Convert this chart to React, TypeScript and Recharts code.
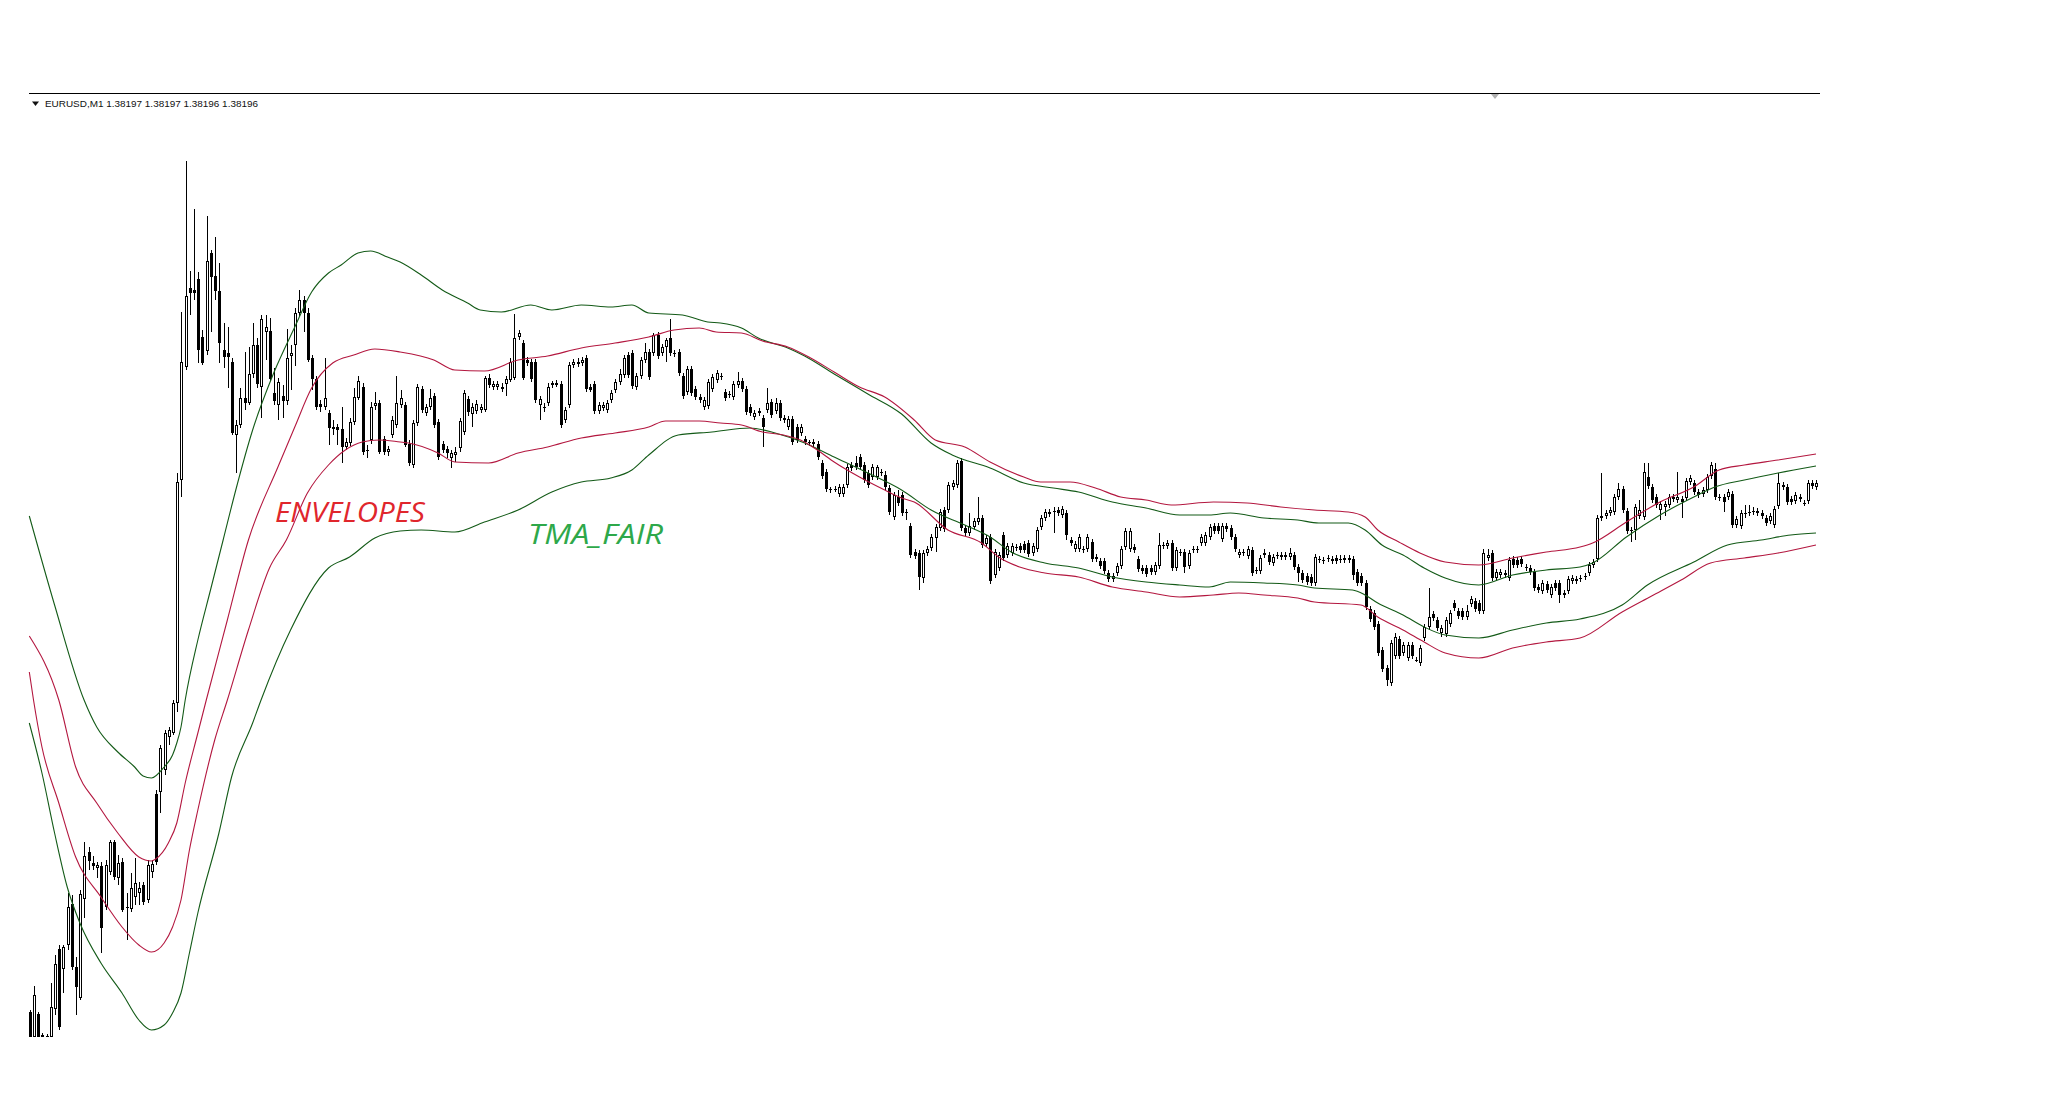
import React from 'react';
import { ComposedChart, Bar, Line, XAxis, YAxis } from 'recharts';

// EURUSD M1 candles, price in points: [open, high, low, close]
const candles: number[][] = [
[88,90,63,63],[63,114,63,105],[86,88,63,63],[63,67,63,65],[63,66,63,64],[63,117,63,93],[91,145,85,136],[151,155,70,73],[131,155,107,153],[155,207,150,193],
[196,205,130,133],[133,143,85,113],[102,210,100,206],[201,258,182,244],[248,253,230,239],[237,244,230,234],[232,238,222,235],[234,238,147,172],[193,240,190,235],[228,260,225,258],
[258,260,220,223],[222,245,215,237],[238,242,188,190],[193,207,160,192],[191,227,188,212],[203,242,195,217],[207,218,195,212],[215,218,195,198],[200,240,197,235],[228,240,222,236],
[306,310,235,238],[308,355,287,352],[330,370,325,367],[363,373,355,370],[367,400,365,397],[397,627,388,618],[620,788,603,738],[733,939,730,804],[812,829,785,807],[810,891,800,807],
[821,828,737,750],[763,770,735,737],[749,884,745,839],[847,850,768,823],[824,863,800,809],[809,837,737,757],[750,777,732,743],[747,773,712,743],[738,742,665,667],[665,680,627,675],
[675,712,672,702],[702,748,690,697],[697,753,695,726],[726,777,722,755],[755,762,712,716],[713,785,682,781],[768,785,740,773],[769,782,719,721],[707,732,695,699],[695,722,680,718],
[704,715,682,699],[699,771,695,742],[744,755,710,747],[755,792,734,787],[787,810,784,800],[800,804,768,787],[787,792,738,740],[742,745,710,721],[721,724,690,693],[696,700,688,693],
[693,742,690,702],[687,690,655,672],[673,680,665,671],[673,676,655,670],[671,693,637,653],[653,662,650,658],[657,682,654,678],[678,712,675,703],[702,724,700,719],[713,717,645,648],
[650,655,642,649],[660,698,656,693],[694,708,690,697],[697,700,646,648],[661,664,645,648],[648,654,644,651],[665,684,662,680],[675,724,672,697],[695,710,692,702],[695,698,653,655],
[656,660,634,637],[635,680,632,677],[677,716,674,713],[711,714,687,690],[687,696,684,693],[693,711,690,702],[704,707,672,675],[678,681,640,643],[656,659,647,650],[651,654,642,647],
[642,650,632,647],[645,653,638,648],[652,682,648,679],[668,710,665,707],[701,704,684,688],[686,697,673,693],[689,700,686,696],[690,696,687,693],[690,724,688,722],[722,726,712,715],
[713,719,710,716],[713,719,710,716],[711,717,708,713],[716,724,704,721],[720,742,718,738],[722,786,720,762],[763,770,760,767],[757,760,720,722],[740,743,734,737],[738,741,718,721],
[738,741,697,700],[695,704,680,701],[693,697,688,692],[697,717,694,713],[715,719,712,717],[715,720,713,717],[716,719,672,675],[680,693,677,690],[695,738,692,735],[735,741,732,738],
[736,742,733,738],[737,743,734,740],[742,745,708,711],[713,716,708,710],[716,719,686,689],[689,698,686,695],[692,698,689,695],[690,700,687,697],[700,710,697,707],[710,721,707,718],
[718,731,715,726],[725,745,722,742],[745,748,722,725],[747,750,711,714],[713,727,710,724],[724,743,721,740],[740,757,737,748],[748,751,720,723],[747,767,744,765],[765,768,741,744],
[747,756,744,753],[753,762,738,760],[762,781,744,747],[747,750,743,746],[748,751,724,727],[724,727,701,704],[708,734,705,731],[731,734,704,707],[711,714,700,703],[703,706,697,700],
[693,703,690,700],[694,721,691,718],[711,726,708,723],[720,730,717,727],[724,727,720,723],[708,711,699,702],[706,709,702,705],[703,719,700,716],[715,728,712,719],[719,722,708,711],
[711,714,685,688],[693,696,684,687],[683,690,680,687],[687,692,684,689],[682,685,653,673],[690,712,687,697],[698,701,682,685],[689,702,686,697],[697,700,679,682],[682,685,677,680],
[673,684,670,681],[681,684,655,658],[673,676,657,660],[667,676,664,673],[661,664,655,658],[658,660,654,657],[658,661,653,656],[656,659,640,643],[637,640,621,624],[628,631,608,611],
[611,613,607,610],[611,614,608,610],[606,616,603,613],[606,616,603,613],[615,636,612,633],[635,638,629,632],[637,644,630,633],[643,646,630,633],[635,638,617,620],[627,630,612,615],
[623,636,620,633],[623,635,620,633],[628,631,624,627],[625,629,610,613],[612,615,585,588],[583,608,580,605],[603,610,594,597],[605,608,584,587],[588,591,580,587],[574,577,542,545],
[548,551,541,544],[547,550,510,523],[522,550,517,547],[547,554,544,551],[552,566,549,563],[562,576,548,573],[572,591,569,588],[590,593,568,571],[590,618,587,615],[613,620,610,617],
[615,640,612,637],[639,642,569,572],[572,575,564,567],[567,587,564,574],[573,582,570,579],[578,603,575,582],[582,585,552,555],[556,565,553,562],[563,566,516,519],[525,551,522,548],
[532,548,529,545],[565,568,539,542],[545,557,542,554],[547,557,544,554],[553,556,549,552],[554,557,547,550],[556,559,547,550],[557,560,543,546],[547,557,544,554],[551,573,548,570],
[573,585,570,582],[582,591,579,588],[586,591,583,588],[589,593,567,588],[590,593,584,587],[585,594,582,591],[587,590,560,565],[560,563,554,557],[551,559,548,556],[551,566,548,563],
[551,554,547,550],[551,566,548,563],[558,561,538,541],[543,546,538,541],[539,542,531,534],[539,542,526,529],[527,530,518,521],[521,527,518,524],[527,537,524,534],[534,554,531,551],
[553,572,550,569],[551,572,548,569],[553,556,547,550],[541,544,528,531],[532,535,526,529],[532,535,523,526],[532,535,525,528],[528,538,525,535],[534,567,531,555],[555,558,551,554],
[554,560,551,557],[557,560,529,532],[532,553,529,550],[548,551,544,547],[548,551,527,533],[534,550,531,547],[551,554,547,550],[551,554,547,550],[557,566,554,563],[557,568,554,565],
[563,576,560,573],[574,577,566,569],[574,577,566,569],[561,577,558,574],[574,577,568,571],[572,575,560,563],[563,566,548,551],[545,551,542,548],[548,551,544,547],[544,554,541,551],
[550,553,524,527],[530,533,526,529],[529,545,526,542],[547,551,542,545],[545,548,535,538],[537,546,534,543],[545,548,541,544],[545,548,540,543],[543,548,540,545],[543,552,540,547],
[545,548,530,533],[533,536,518,527],[527,530,517,520],[524,527,515,518],[523,526,514,517],[517,546,514,543],[541,544,537,540],[540,543,536,539],[542,545,538,541],[541,544,536,539],
[542,545,536,539],[541,545,537,540],[542,545,537,540],[542,545,537,540],[541,544,520,525],[528,531,514,517],[524,527,514,517],[517,520,490,493],[491,494,478,481],[487,490,470,473],
[476,479,444,447],[450,453,428,431],[432,435,414,420],[417,460,414,457],[444,467,441,463],[461,464,441,444],[447,458,444,455],[442,458,439,455],[455,458,441,444],[440,443,438,439],
[437,455,434,452],[462,476,459,473],[473,512,470,483],[486,489,479,482],[480,483,469,472],[467,475,463,472],[466,483,463,480],[476,490,473,487],[497,500,489,492],[489,492,481,484],
[489,492,480,483],[483,495,480,489],[496,504,493,501],[499,502,488,491],[497,500,486,489],[489,551,486,547],[542,551,539,545],[547,550,519,522],[522,531,519,528],[525,531,522,528],
[527,530,522,525],[522,543,519,540],[541,544,532,535],[540,543,532,535],[541,544,533,536],[533,536,529,532],[532,535,525,528],[528,531,509,512],[513,516,507,510],[509,520,506,517],
[516,519,507,510],[505,516,502,513],[517,520,509,512],[517,520,497,505],[505,510,502,507],[509,524,506,521],[519,525,516,522],[519,524,516,521],[522,525,518,521],[523,527,520,524],
[527,538,524,535],[535,541,532,538],[541,585,538,582],[582,627,579,584],[584,590,581,587],[587,593,584,590],[588,606,585,603],[603,617,600,611],[611,614,587,590],[589,592,566,569],
[570,573,558,569],[570,596,560,593],[584,600,581,590],[583,637,580,628],[623,637,611,614],[613,616,597,600],[603,606,592,595],[590,599,580,596],[593,599,584,596],[595,606,592,603],
[603,606,598,601],[600,628,597,603],[601,604,582,598],[602,622,599,619],[618,625,615,622],[617,620,605,608],[608,611,602,605],[606,613,603,610],[610,626,607,623],[624,638,621,635],
[631,637,600,603],[603,606,599,602],[603,606,588,598],[603,611,600,608],[606,609,572,575],[575,584,572,581],[574,590,571,587],[587,595,582,586],[588,595,584,587],[589,593,585,588],
[589,592,584,587],[587,590,581,584],[582,585,574,577],[579,587,576,584],[575,594,572,591],[594,627,591,617],[613,618,610,615],[613,616,595,598],[601,604,595,598],[599,608,596,605],
[603,606,598,601],[597,600,594,596],[599,620,596,617],[617,620,611,614],[613,620,610,617]
];

// indicator samples: [candle index, value]
const tmaUpper: number[][] = [[0,584],[6,495],[13,400],[16,373],[21,348],[25,333],[27,324],[29,322],[32,333],[34,345],[35,357],[36,373],[37,400],[40,460],[43,510],[46,560],[49,610],[53,670],[58,727],[63,773],[67,808],[71,827],[74,835],[78,847],[81,849],[85,843],[88,838],[93,825],[98,810],[104,797],[107,790],[112,788],[119,795],[124,790],[131,795],[138,793],[143,795],[147,787],[155,785],[161,778],[164,777],[169,772],[173,762],[180,752],[184,744],[191,726],[199,706],[207,686],[214,657],[219,645],[228,632],[236,617],[243,612],[249,608],[257,598],[265,592],[273,585],[280,585],[285,587],[293,582],[301,580],[306,577],[313,577],[317,570],[321,555],[326,545],[331,532],[336,522],[344,515],[352,525],[360,530],[368,533],[371,537],[379,563],[387,585],[395,603],[400,613],[407,620],[415,627],[424,634]];

const tmaLower: number[][] = [[0,377],[3,327],[6,267],[9,213],[12,177],[17,137],[22,107],[26,80],[29,70],[32,75],[34,87],[36,107],[38,147],[40,187],[45,267],[48,323],[53,377],[55,400],[62,470],[71,532],[76,543],[82,562],[88,569],[93,570],[101,568],[108,578],[116,590],[124,608],[131,618],[138,622],[143,630],[147,645],[154,665],[162,668],[171,672],[177,667],[184,657],[191,643],[199,627],[207,610],[214,590],[222,575],[228,563],[233,548],[241,537],[249,532],[257,523],[265,518],[273,515],[280,513],[285,518],[293,517],[301,515],[305,512],[314,510],[317,505],[320,497],[326,485],[331,473],[336,465],[344,462],[352,470],[360,477],[368,481],[378,495],[384,515],[395,538],[403,555],[411,560],[418,565],[424,567]];

const envUpper: number[][] = [[0,464],[7,400],[11,333],[16,297],[21,267],[26,243],[29,239],[30,241],[33,257],[35,277],[37,317],[40,367],[42,400],[47,480],[52,560],[59,633],[63,673],[67,712],[72,737],[77,745],[82,751],[88,748],[96,740],[101,730],[108,729],[116,740],[123,744],[131,752],[139,757],[147,763],[153,770],[159,772],[163,768],[169,767],[174,759],[180,753],[185,743],[191,728],[197,713],[203,703],[210,680],[215,660],[222,653],[228,638],[236,623],[240,618],[247,618],[253,612],[259,603],[265,600],[271,595],[281,598],[289,597],[297,593],[305,590],[313,588],[317,583],[320,570],[325,558],[330,547],[336,538],[344,535],[352,542],[360,548],[368,553],[371,557],[379,578],[387,598],[395,613],[401,630],[407,635],[415,640],[424,646]];

const envLower: number[][] = [[0,428],[1,400],[3,353],[7,297],[11,243],[17,203],[22,173],[26,155],[29,148],[32,157],[34,173],[36,200],[38,250],[40,290],[44,360],[47,400],[52,470],[57,532],[61,560],[66,607],[71,635],[75,650],[79,658],[83,660],[88,658],[90,657],[97,647],[101,638],[109,637],[116,647],[123,653],[131,662],[139,667],[147,673],[151,679],[159,679],[164,677],[169,675],[174,668],[179,665],[183,660],[187,650],[191,638],[197,623],[203,610],[207,602],[210,598],[218,570],[226,557],[230,543],[235,533],[241,527],[249,523],[257,513],[265,508],[273,503],[281,505],[287,507],[293,505],[301,502],[305,498],[316,495],[320,483],[326,470],[331,458],[336,447],[344,442],[352,452],[360,458],[368,462],[378,488],[385,504],[392,520],[399,537],[407,542],[415,547],[424,555]];

const headerText = 'EURUSD,M1  1.38197 1.38197 1.38196 1.38196';
const envLabel = 'ENVELOPES';
const tmaLabel = 'TMA_FAIR';

const GREEN = '#135a17';
const RED = '#b3173f';

type Row = { [k: string]: any };

function buildRows(): Row[] {
  const rows: Row[] = candles.map((c, i) => ({ i, o: c[0], h: c[1], l: c[2], c: c[3], range: [c[2], c[1]] }));
  const put = (arr: number[][], key: string) => arr.forEach(([i, v]) => { if (rows[i]) rows[i][key] = v; });
  put(tmaUpper, 'tu');
  put(tmaLower, 'tl');
  put(envUpper, 'eu');
  put(envLower, 'el');
  return rows;
}

const rows = buildRows();

const CandleShape = (props: any) => {
  const { x, y, width, height, payload } = props;
  if (x == null || y == null || !payload) return <g />;
  const { o, h, l, c } = payload;
  const top = Math.min(y, y + height);
  const hgt = Math.abs(height);
  const span = h - l;
  const py = (v: number) => (span === 0 ? top : top + ((h - v) / span) * hgt);
  const cx = Math.round(x + width / 2);
  const yHigh = Math.round(top);
  const yLow = Math.round(top + hgt);
  const bTop = Math.round(py(Math.max(o, c)));
  const bBot = Math.round(py(Math.min(o, c)));
  const up = c > o;
  const bh = bBot - bTop;
  return (
    <g shapeRendering="crispEdges">
      <line x1={cx + 0.5} x2={cx + 0.5} y1={yHigh} y2={yLow} stroke="#000" strokeWidth={1} />
      {bh <= 1 ? (
        <rect x={cx - 1} y={bTop} width={3} height={1} fill="#000" />
      ) : up ? (
        <rect x={cx - 0.5} y={bTop + 0.5} width={2} height={Math.max(bh - 1, 0)} fill="#fff" stroke="#000" strokeWidth={1} />
      ) : (
        <rect x={cx - 1} y={bTop} width={3} height={bh} fill="#000" />
      )}
    </g>
  );
};

export default function App() {
  const n = candles.length;
  const firstX = 29.3;
  const lastX = 1816;
  const bw = (lastX - firstX) / (n - 1);
  const left = firstX - bw / 2;
  const right = 2048 - (left + bw * n);
  return (
    <div style={{ position: 'absolute', left: 0, top: 0, width: 2048, height: 1112, background: '#fff', overflow: 'hidden' }}>
      <ComposedChart width={2048} height={1112} data={rows} margin={{ top: 100, bottom: 12, left, right }}>
        <XAxis dataKey="i" type="category" hide />
        <YAxis type="number" domain={[0, 1000]} hide allowDataOverflow />
        <Bar dataKey="range" barSize={3} shape={CandleShape} isAnimationActive={false} />
        <Line dataKey="tu" type="monotone" stroke={GREEN} strokeWidth={1.1} dot={false} activeDot={false} connectNulls isAnimationActive={false} />
        <Line dataKey="tl" type="monotone" stroke={GREEN} strokeWidth={1.1} dot={false} activeDot={false} connectNulls isAnimationActive={false} />
        <Line dataKey="eu" type="monotone" stroke={RED} strokeWidth={1.1} dot={false} activeDot={false} connectNulls isAnimationActive={false} />
        <Line dataKey="el" type="monotone" stroke={RED} strokeWidth={1.1} dot={false} activeDot={false} connectNulls isAnimationActive={false} />
      </ComposedChart>
      <svg width={2048} height={1112} style={{ position: 'absolute', left: 0, top: 0, pointerEvents: 'none' }}>
        <line x1={29} x2={1820} y1={93.5} y2={93.5} stroke="#000" strokeWidth={1} />
        <polygon points="1491,94 1499,94 1495,99" fill="#b0b0b0" />
        <polygon points="32,101.5 39,101.5 35.5,106" fill="#111" />
        <text x={45} y={106.5} fontSize={9} fontFamily="'Liberation Sans', Arial, sans-serif" fill="#111" textLength={213} lengthAdjust="spacingAndGlyphs">{headerText}</text>
        <text x={275} y={522} fontSize={28} fontStyle="italic" fontFamily="'Open Sans', 'Liberation Sans', sans-serif" fill="#e0262c" textLength={150} lengthAdjust="spacingAndGlyphs">{envLabel}</text>
        <text x={528} y={544} fontSize={28} fontStyle="italic" fontFamily="'Open Sans', 'Liberation Sans', sans-serif" fill="#2ea84a" textLength={135} lengthAdjust="spacingAndGlyphs">{tmaLabel}</text>
      </svg>
    </div>
  );
}
